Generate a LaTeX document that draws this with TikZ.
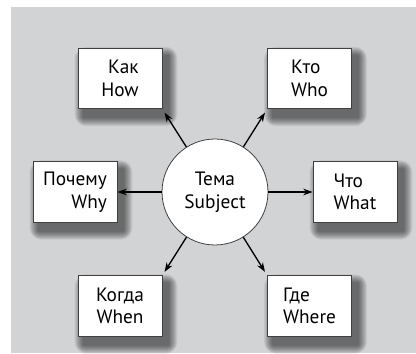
\documentclass[tikz,border=0pt]{standalone}
\usepackage{fontspec}
\setmainfont{PT Sans}
\usetikzlibrary{calc,arrows.meta}
\definecolor{bggray}{RGB}{210,211,213}
\pgfdeclarelayer{bg}
\pgfdeclarelayer{shade}
\pgfsetlayers{bg,shade,main}

\begin{document}
\begin{tikzpicture}[x=0.75pt,y=0.75pt,
    box/.style={draw=black!75, line width=0.6pt, fill=white,
        minimum width=63pt, minimum height=45.5pt, align=center,
        font=\fontsize{14.5}{17}\selectfont},
    hub/.style={circle, draw=black!75, line width=0.6pt, fill=white,
        minimum size=79.5pt, inner sep=0pt, align=center,
        font=\fontsize{14.5}{17}\selectfont},
    link/.style={line width=1pt, -{Stealth[length=7pt,width=5pt]}}]

            % Background
            \useasboundingbox (0,0) rectangle (416,353);
            \begin{pgfonlayer}{bg}
            \fill[bggray] (11,0) rectangle (416,345.5);
            \end{pgfonlayer}

            % Question boxes
            \node[box, align=right] (how) at (120,274.5) {Как\\How};
            \node[box, align=left] (who) at (309.5,274.5) {Кто\\Who};
            \node[box, align=right] (why) at (75,161) {Почему\\Why};
            \node[box, align=left] (what) at (355,161) {Что\\What};
            \node[box] (when) at (120,47) {Когда\\When};
            \node[box, align=left] (where) at (309.5,47) {Где\\Where};

            % Soft shadows
            \begin{pgfonlayer}{shade}
            \foreach \n in {how,who,why,what,when,where}
              \foreach \r in {1,...,9}
                \fill[black, opacity=0.07, rounded corners=\r pt]
                  ($(\n.south west)+(6-\r,-8-\r)$) rectangle ($(\n.north east)+(6+\r,-8+\r)$);
            \end{pgfonlayer}

            % Subject circle
            \node[hub] (subj) at (215,161) {Тема\\Subject};

            % Arrows
            \draw[link, shorten >=3pt] (subj) -- (how.south east);
            \draw[link, shorten >=3pt] (subj) -- (who.south west);
            \draw[link, line width=1.3pt] (subj) -- (why);
            \draw[link, line width=1.3pt] (subj) -- (what);
            \draw[link, shorten >=3pt] (subj) -- (when.north east);
            \draw[link, shorten >=3pt] (subj) -- (where.north west);
            \end{tikzpicture}
\end{document}
